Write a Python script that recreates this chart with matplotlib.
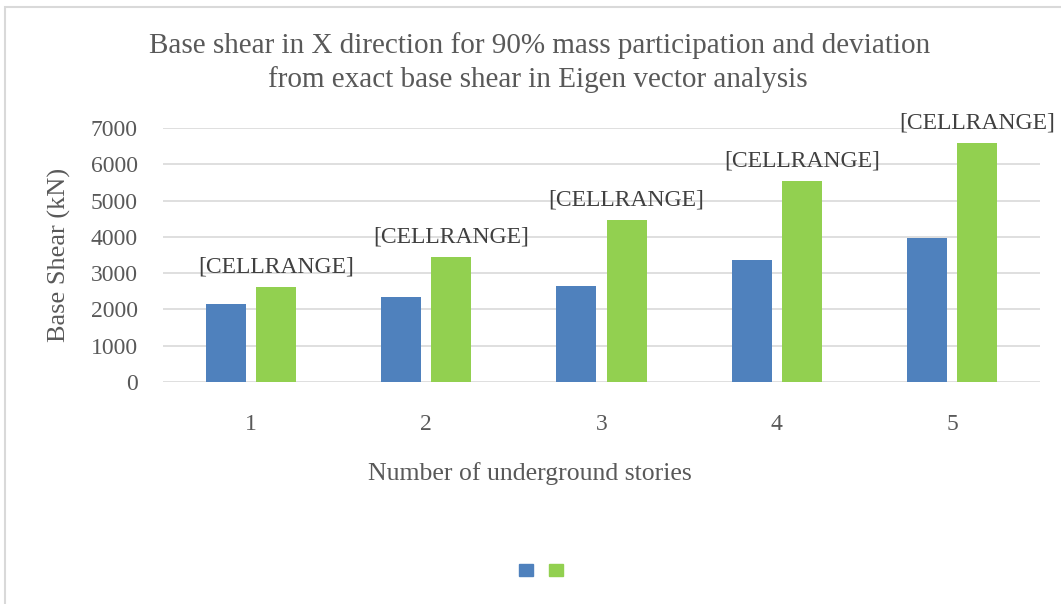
import matplotlib.pyplot as plt
from matplotlib.patches import Patch, Rectangle
import numpy as np

plt.rcParams['font.family'] = ['Liberation Serif', 'DejaVu Serif']

# data
stories = ['1', '2', '3', '4', '5']
shear_blue = [2150, 2330, 2650, 3360, 3970]
shear_green = [2620, 3450, 4460, 5530, 6580]
point_labels = ['[CELLRANGE]'] * 5

blue = '#4f81bd'
green = '#92d050'
text_col = '#595959'

W, H = 1061, 604
fig = plt.figure(figsize=(W / 100, H / 100), dpi=100)
# chart frame (light grey outline, cut at right/bottom edge)
fig.patches.append(Rectangle((5 / W, -0.1), 1.2, 1 - 7 / H + 0.1,
                             transform=fig.transFigure, fill=False,
                             edgecolor='#d9d9d9', linewidth=1.5))

ax = fig.add_axes([163 / W, 1 - 382 / H, (1040 - 163) / W, (382 - 128) / H])
x = np.arange(len(stories))
w = 0.228
ax.bar(x - 0.143, shear_blue, w, color=blue, zorder=3)
ax.bar(x + 0.143, shear_green, w, color=green, zorder=3)

for xi, v, lab in zip(x, shear_green, point_labels):
    ax.annotate(lab, (xi + 0.143, v), xytext=(0, 7), textcoords='offset points',
                ha='center', va='bottom', fontsize=17, color='#404040')

ax.set_ylim(0, 7000)
ax.set_xlim(-0.5, 4.5)
ax.set_yticks(range(0, 7001, 1000))
ax.set_xticks(x)
ax.set_xticklabels(stories)
ax.grid(axis='y', color='#d9d9d9', linewidth=1.2, zorder=0)
for s in ax.spines.values():
    s.set_visible(False)
ax.tick_params(length=0, labelsize=17, labelcolor=text_col)
ax.tick_params(axis='y', pad=18)
ax.tick_params(axis='x', pad=23)

fig.text(59 / W, 1 - 255 / H, 'Base Shear (kN)', rotation=90, ha='center', va='center',
         fontsize=19, color=text_col)
fig.text(530 / W, 1 - 480 / H, 'Number of underground stories', ha='center', va='baseline',
         fontsize=18.5, color=text_col)

fig.text(540 / W, 1 - 53 / H, 'Base shear in X direction for 90% mass participation and deviation',
         ha='center', va='baseline', fontsize=21, color=text_col)
fig.text(538 / W, 1 - 87 / H, 'from exact base shear in Eigen vector analysis',
         ha='center', va='baseline', fontsize=21, color=text_col)

handles = [Patch(color=blue), Patch(color=green)]
fig.legend(handles, ['', ''], loc='center', bbox_to_anchor=(541 / W, 1 - 571 / H),
           ncol=2, frameon=False, handlelength=1.0, handleheight=1.0,
           handletextpad=0.0, columnspacing=1.15)

fig.savefig('out.png', dpi=100)
